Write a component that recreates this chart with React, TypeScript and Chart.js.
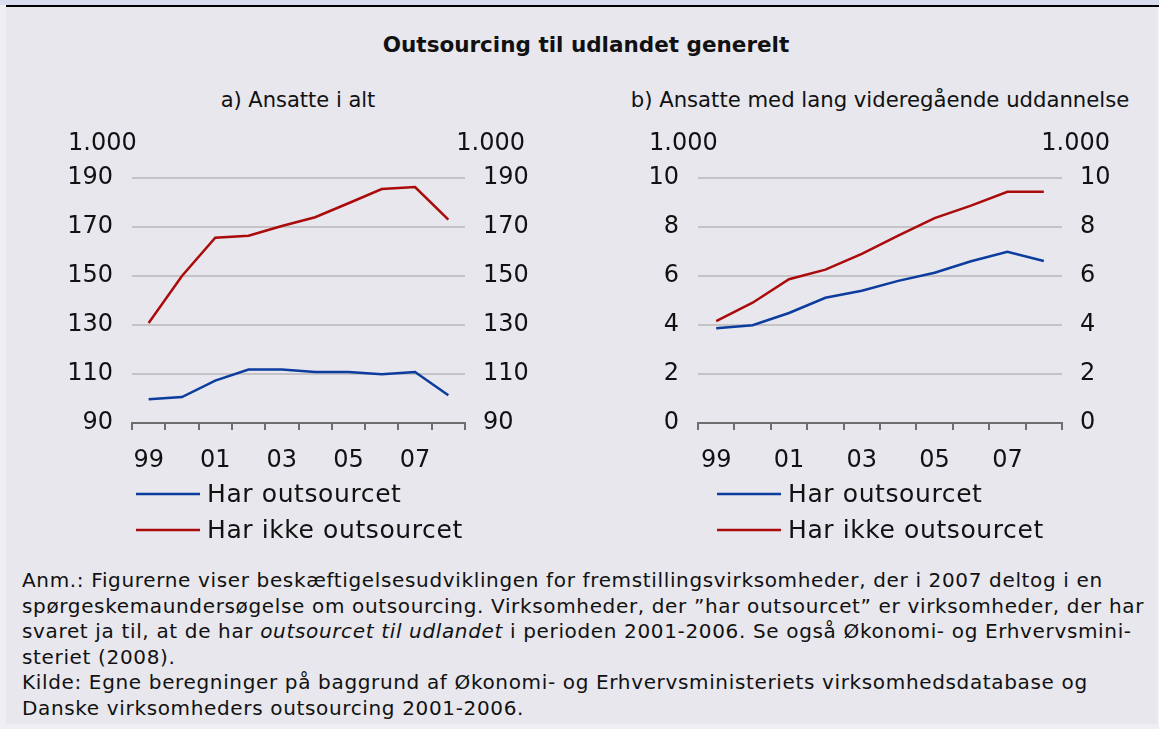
import React, { useEffect, useRef } from 'react';
import { Chart, registerables } from 'chart.js';

Chart.register(...registerables);

// ---------- data ----------
const years = ['99', '00', '01', '02', '03', '04', '05', '06', '07', '08'];
const seriesLabels = ['Har outsourcet', 'Har ikke outsourcet'];

// a) Ansatte i alt (1.000 persons)
const totalOutsourced = [99.7, 100.6, 107.3, 111.8, 111.8, 110.8, 110.8, 109.9, 110.8, 101.3];
const totalNotOutsourced = [130.8, 150.0, 165.6, 166.4, 170.4, 174.0, 179.7, 185.5, 186.3, 173.0];

// b) Ansatte med lang videregående uddannelse (1.000 persons)
const eduOutsourced = [3.87, 3.99, 4.49, 5.11, 5.4, 5.8, 6.13, 6.6, 6.99, 6.61];
const eduNotOutsourced = [4.16, 4.91, 5.87, 6.26, 6.9, 7.65, 8.36, 8.87, 9.44, 9.44];

const totalAxis = [90, 190, 20];
const eduAxis = [0, 10, 2];
const unitLabel = '1.000';

const mainTitle = 'Outsourcing til udlandet generelt';
const panelTitles = ['a) Ansatte i alt', 'b) Ansatte med lang videregående uddannelse'];

const BLUE = '#0c3c9e';
const RED = '#ab0a0a';
const FONT = '"DejaVu Sans", Verdana, sans-serif';

const decorPlugin = {
  id: 'decor',
  afterDraw(chart: any, _args: any, opts: any) {
    const { ctx, chartArea, scales } = chart;
    ctx.save();
    ctx.font = `24px ${FONT}`;
    ctx.fillStyle = '#111';
    ctx.textBaseline = 'middle';
    ctx.textAlign = 'left';
    ctx.fillText(opts.unit, scales.yL.left + 1, chartArea.top - 34);
    ctx.textAlign = 'right';
    ctx.fillText(opts.unit, scales.yR.right - opts.unitRightInset, chartArea.top - 34);
    ctx.font = `25px ${FONT}`;
    try { (ctx as any).letterSpacing = '0.6px'; } catch (e) { /* ignore */ }
    chart.data.datasets.forEach((ds: any, i: number) => {
      const y = chartArea.bottom + 71 + i * 36;
      const x = chartArea.left + opts.legendLeft;
      ctx.strokeStyle = ds.borderColor;
      ctx.lineWidth = 2.5;
      ctx.beginPath();
      ctx.moveTo(x, y);
      ctx.lineTo(x + 64, y);
      ctx.stroke();
      ctx.textAlign = 'left';
      ctx.fillStyle = '#111';
      ctx.fillText(ds.label, x + 71, y + 1);
    });
    ctx.restore();
  },
};

type PanelProps = {
  left: number;
  width: number;
  blue: number[];
  red: number[];
  axis: number[];
  yLeftWidth: number;
  yRightWidth: number;
  padLeft: number;
  padRight: number;
  legendLeft: number;
  unitRightInset: number;
};

function Panel(p: PanelProps) {
  const ref = useRef<HTMLCanvasElement | null>(null);
  useEffect(() => {
    if (!ref.current) return;
    const [min, max, step] = p.axis;
    const tickFont = { family: FONT, size: 24 };
    const chart = new Chart(ref.current, {
      type: 'line',
      data: {
        labels: years,
        datasets: [
          { label: seriesLabels[0], data: p.blue, borderColor: BLUE, backgroundColor: BLUE, borderWidth: 2.5, pointRadius: 0, tension: 0, yAxisID: 'yL' },
          { label: seriesLabels[1], data: p.red, borderColor: RED, backgroundColor: RED, borderWidth: 2.5, pointRadius: 0, tension: 0, yAxisID: 'yL' },
        ],
      },
      options: {
        responsive: false,
        animation: false,
        events: [],
        layout: { padding: { left: p.padLeft, right: p.padRight, top: 50, bottom: 77 } },
        plugins: {
          legend: { display: false },
          title: { display: false },
          tooltip: { enabled: false },
          decor: { unit: unitLabel, legendLeft: p.legendLeft, unitRightInset: p.unitRightInset },
        } as any,
        scales: {
          x: {
            type: 'category',
            offset: true,
            grid: {
              offset: true,
              drawOnChartArea: false,
              drawTicks: true,
              tickLength: 7,
              color: '#6e6e6e',
              lineWidth: 2,
            },
            border: { display: true, color: '#6e6e6e', width: 2 },
            ticks: {
              autoSkip: false,
              maxRotation: 0,
              padding: 16,
              color: '#111',
              font: tickFont,
              callback: (_v: any, i: number) => (i % 2 === 0 ? years[i] : ''),
            },
            afterFit: (s: any) => { s.height = 50; },
          },
          yL: {
            type: 'linear',
            position: 'left',
            min,
            max,
            grid: {
              drawTicks: false,
              color: (c: any) => (c.index === 0 ? 'rgba(0,0,0,0)' : '#c4c4c6'),
              lineWidth: 2,
            },
            border: { display: false },
            ticks: { stepSize: step, padding: 19, color: '#111', font: tickFont },
            afterFit: (s: any) => { s.width = p.yLeftWidth; },
          },
          yR: {
            type: 'linear',
            position: 'right',
            min,
            max,
            grid: { display: false, drawTicks: false },
            border: { display: false },
            ticks: { stepSize: step, padding: 18, color: '#111', font: tickFont },
            afterFit: (s: any) => { s.width = p.yRightWidth; },
          },
        },
      } as any,
      plugins: [decorPlugin],
    });
    return () => chart.destroy();
  }, []);
  return (
    <canvas
      ref={ref}
      width={p.width}
      height={422}
      style={{ position: 'absolute', left: p.left, top: 128, width: p.width, height: 422 }}
    />
  );
}

export default function App() {
  const centerText = (text: string, cx: number, cy: number, style: any) => (
    <div
      style={{
        position: 'absolute',
        left: cx - 400,
        width: 800,
        top: cy - 15,
        height: 30,
        lineHeight: '30px',
        textAlign: 'center',
        whiteSpace: 'nowrap',
        color: '#111',
        fontFamily: FONT,
        ...style,
      }}
    >
      {text}
    </div>
  );
  return (
    <div style={{ position: 'absolute', left: 0, top: 0, width: 1159, height: 729, background: '#eeeef3', overflow: 'hidden' }}>
      <div style={{ position: 'absolute', left: 0, top: 0, width: 1159, height: 5, background: '#dadcf0' }} />
      <div style={{ position: 'absolute', left: 6, top: 5, width: 1153, height: 2, background: '#000' }} />
      <div style={{ position: 'absolute', left: 6, top: 7, width: 1151, height: 717, background: '#e7e7ed' }} />
      {centerText(mainTitle, 586, 45, { fontWeight: 'bold', fontSize: 21.5 })}
      {centerText(panelTitles[0], 298, 100, { fontSize: 21 })}
      {centerText(panelTitles[1], 880, 100, { fontSize: 21.2 })}
      <Panel left={0} width={580} blue={totalOutsourced} red={totalNotOutsourced} axis={totalAxis}
        yLeftWidth={65} yRightWidth={65} padLeft={67} padRight={50} legendLeft={4} unitRightInset={5} />
      <Panel left={580} width={579} blue={eduOutsourced} red={eduNotOutsourced} axis={eduAxis}
        yLeftWidth={50} yRightWidth={50} padLeft={68} padRight={47} legendLeft={19} unitRightInset={2} />
      <div
        style={{
          position: 'absolute',
          left: 22,
          top: 568,
          fontFamily: FONT,
          fontSize: 20,
          letterSpacing: '0.65px',
          lineHeight: '25.6px',
          color: '#111',
          whiteSpace: 'nowrap',
        }}
      >
        Anm.: Figurerne viser beskæftigelsesudviklingen for fremstillingsvirksomheder, der i 2007 deltog i en<br />
        spørgeskemaundersøgelse om outsourcing. Virksomheder, der ”har outsourcet” er virksomheder, der har<br />
        svaret ja til, at de har <i>outsourcet til udlandet</i> i perioden 2001-2006. Se også Økonomi- og Erhvervsmini-<br />
        steriet (2008).<br />
        Kilde: Egne beregninger på baggrund af Økonomi- og Erhvervsministeriets virksomhedsdatabase og<br />
        Danske virksomheders outsourcing 2001-2006.
      </div>
    </div>
  );
}
